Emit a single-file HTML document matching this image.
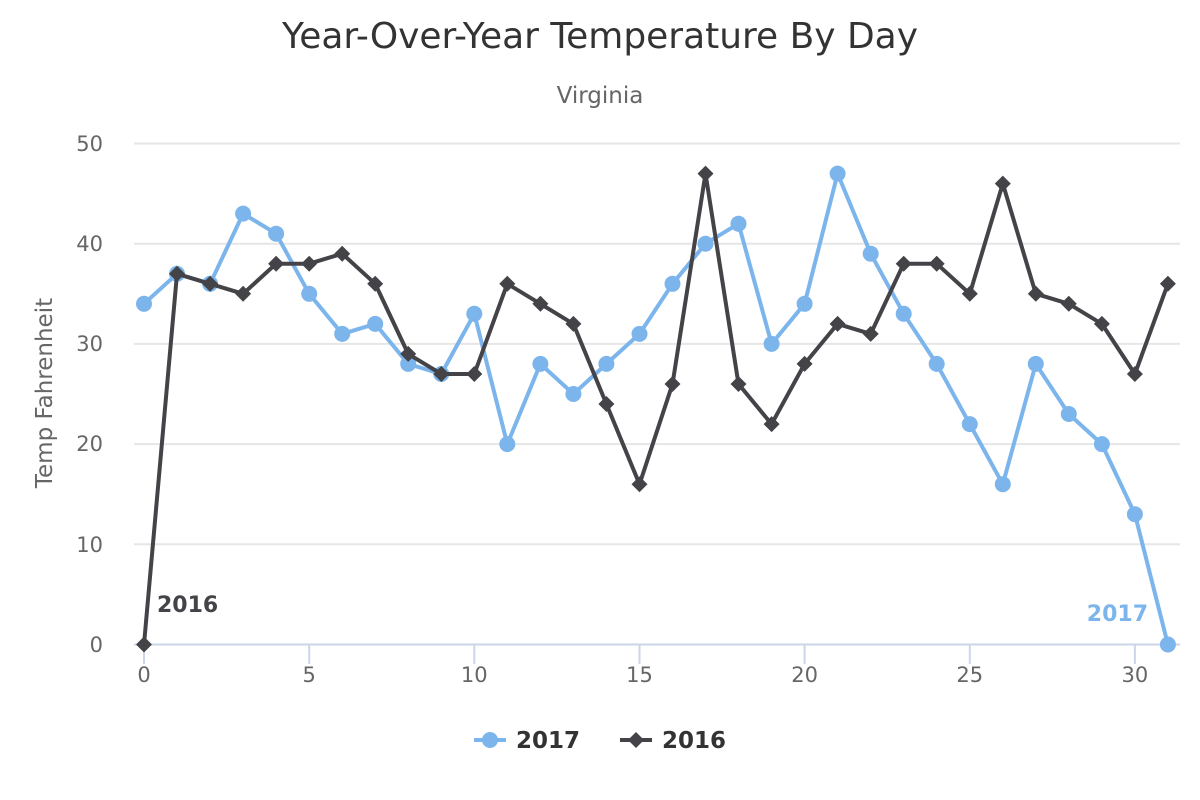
<!DOCTYPE html>
<html>
<head>
<meta charset="utf-8">
<style>
html,body{margin:0;padding:0;background:#fff;}
svg{display:block;font-family:"DejaVu Sans","Liberation Sans",sans-serif;}
</style>
</head>
<body>
<svg width="1200" height="800" viewBox="0 0 1200 800" xmlns="http://www.w3.org/2000/svg">
<rect x="0" y="0" width="1200" height="800" fill="#ffffff"/>
<text x="600" y="48" text-anchor="middle" font-size="36" fill="#333333" textLength="636" lengthAdjust="spacingAndGlyphs">Year-Over-Year Temperature By Day</text>
<text x="600" y="103" text-anchor="middle" font-size="23" fill="#666666">Virginia</text>

<g stroke="#e6e6e6" stroke-width="2">
<line x1="134" y1="143.5" x2="1180" y2="143.5"/>
<line x1="134" y1="243.7" x2="1180" y2="243.7"/>
<line x1="134" y1="343.9" x2="1180" y2="343.9"/>
<line x1="134" y1="444.1" x2="1180" y2="444.1"/>
<line x1="134" y1="544.3" x2="1180" y2="544.3"/>
</g>
<g stroke="#ccd6eb" stroke-width="2">
<line x1="134" y1="644.5" x2="1180" y2="644.5"/>
<line x1="144" y1="644" x2="144" y2="664"/>
<line x1="309.2" y1="644" x2="309.2" y2="664"/>
<line x1="474.3" y1="644" x2="474.3" y2="664"/>
<line x1="639.5" y1="644" x2="639.5" y2="664"/>
<line x1="804.6" y1="644" x2="804.6" y2="664"/>
<line x1="969.8" y1="644" x2="969.8" y2="664"/>
<line x1="1134.9" y1="644" x2="1134.9" y2="664"/>
</g>

<g font-size="21" fill="#666666" text-anchor="end">
<text x="103" y="151">50</text>
<text x="103" y="251">40</text>
<text x="103" y="351">30</text>
<text x="103" y="451">20</text>
<text x="103" y="552">10</text>
<text x="103" y="652">0</text>
</g>
<g font-size="21" fill="#666666" text-anchor="middle">
<text x="144" y="682">0</text>
<text x="309.2" y="682">5</text>
<text x="474.3" y="682">10</text>
<text x="639.5" y="682">15</text>
<text x="804.6" y="682">20</text>
<text x="969.8" y="682">25</text>
<text x="1134.9" y="682">30</text>
</g>
<text transform="translate(52,393) rotate(-90)" text-anchor="middle" font-size="23" fill="#666666">Temp Fahrenheit</text>

<polyline fill="none" stroke="#7cb5ec" stroke-width="4" stroke-linejoin="round" stroke-linecap="round" points="144,303.8 177,273.8 210.1,283.8 243.1,213.6 276.1,233.7 309.2,293.8 342.2,333.9 375.2,323.9 408.2,363.9 441.3,374 474.3,313.8 507.3,444.1 540.4,363.9 573.4,394 606.4,363.9 639.5,333.9 672.5,283.8 705.5,243.7 738.5,223.7 771.6,343.9 804.6,303.8 837.6,173.6 870.7,253.7 903.7,313.8 936.7,363.9 969.8,424.1 1002.8,484.2 1035.8,363.9 1068.8,414 1101.9,444.1 1134.9,514.2 1167.9,644.5"/>
<g fill="#7cb5ec">
<circle cx="144" cy="303.8" r="8"/><circle cx="177" cy="273.8" r="8"/><circle cx="210.1" cy="283.8" r="8"/><circle cx="243.1" cy="213.6" r="8"/><circle cx="276.1" cy="233.7" r="8"/><circle cx="309.2" cy="293.8" r="8"/><circle cx="342.2" cy="333.9" r="8"/><circle cx="375.2" cy="323.9" r="8"/><circle cx="408.2" cy="363.9" r="8"/><circle cx="441.3" cy="374" r="8"/><circle cx="474.3" cy="313.8" r="8"/><circle cx="507.3" cy="444.1" r="8"/><circle cx="540.4" cy="363.9" r="8"/><circle cx="573.4" cy="394" r="8"/><circle cx="606.4" cy="363.9" r="8"/><circle cx="639.5" cy="333.9" r="8"/><circle cx="672.5" cy="283.8" r="8"/><circle cx="705.5" cy="243.7" r="8"/><circle cx="738.5" cy="223.7" r="8"/><circle cx="771.6" cy="343.9" r="8"/><circle cx="804.6" cy="303.8" r="8"/><circle cx="837.6" cy="173.6" r="8"/><circle cx="870.7" cy="253.7" r="8"/><circle cx="903.7" cy="313.8" r="8"/><circle cx="936.7" cy="363.9" r="8"/><circle cx="969.8" cy="424.1" r="8"/><circle cx="1002.8" cy="484.2" r="8"/><circle cx="1035.8" cy="363.9" r="8"/><circle cx="1068.8" cy="414" r="8"/><circle cx="1101.9" cy="444.1" r="8"/><circle cx="1134.9" cy="514.2" r="8"/><circle cx="1167.9" cy="644.5" r="8"/>
</g>

<polyline fill="none" stroke="#434348" stroke-width="4" stroke-linejoin="round" stroke-linecap="round" points="144,644.5 177,273.8 210.1,283.8 243.1,293.8 276.1,263.7 309.2,263.7 342.2,253.7 375.2,283.8 408.2,353.9 441.3,374 474.3,374 507.3,283.8 540.4,303.8 573.4,323.9 606.4,404 639.5,484.2 672.5,384 705.5,173.6 738.5,384 771.6,424.1 804.6,363.9 837.6,323.9 870.7,333.9 903.7,263.7 936.7,263.7 969.8,293.8 1002.8,183.6 1035.8,293.8 1068.8,303.8 1101.9,323.9 1134.9,374 1167.9,283.8"/>
<path fill="#434348" d="M144,636.5l8,8-8,8-8-8z M177,265.8l8,8-8,8-8-8z M210.1,275.8l8,8-8,8-8-8z M243.1,285.8l8,8-8,8-8-8z M276.1,255.7l8,8-8,8-8-8z M309.2,255.7l8,8-8,8-8-8z M342.2,245.7l8,8-8,8-8-8z M375.2,275.8l8,8-8,8-8-8z M408.2,345.9l8,8-8,8-8-8z M441.3,366l8,8-8,8-8-8z M474.3,366l8,8-8,8-8-8z M507.3,275.8l8,8-8,8-8-8z M540.4,295.8l8,8-8,8-8-8z M573.4,315.9l8,8-8,8-8-8z M606.4,396l8,8-8,8-8-8z M639.5,476.2l8,8-8,8-8-8z M672.5,376l8,8-8,8-8-8z M705.5,165.6l8,8-8,8-8-8z M738.5,376l8,8-8,8-8-8z M771.6,416.1l8,8-8,8-8-8z M804.6,355.9l8,8-8,8-8-8z M837.6,315.9l8,8-8,8-8-8z M870.7,325.9l8,8-8,8-8-8z M903.7,255.7l8,8-8,8-8-8z M936.7,255.7l8,8-8,8-8-8z M969.8,285.8l8,8-8,8-8-8z M1002.8,175.6l8,8-8,8-8-8z M1035.8,285.8l8,8-8,8-8-8z M1068.8,295.8l8,8-8,8-8-8z M1101.9,315.9l8,8-8,8-8-8z M1134.9,366l8,8-8,8-8-8z M1167.9,275.8l8,8-8,8-8-8z"/>

<text x="157" y="612" font-size="22" font-weight="bold" fill="#434348">2016</text>
<text x="1148" y="621" font-size="22" font-weight="bold" fill="#7cb5ec" text-anchor="end">2017</text>

<line x1="474" y1="740" x2="506" y2="740" stroke="#7cb5ec" stroke-width="4"/>
<circle cx="490" cy="740" r="8" fill="#7cb5ec"/>
<text x="516" y="748" font-size="23" font-weight="bold" fill="#333333">2017</text>
<line x1="620" y1="740" x2="652" y2="740" stroke="#434348" stroke-width="4"/>
<path fill="#434348" d="M636,732l8,8-8,8-8-8z"/>
<text x="662" y="748" font-size="23" font-weight="bold" fill="#333333">2016</text>
</svg>
</body>
</html>
